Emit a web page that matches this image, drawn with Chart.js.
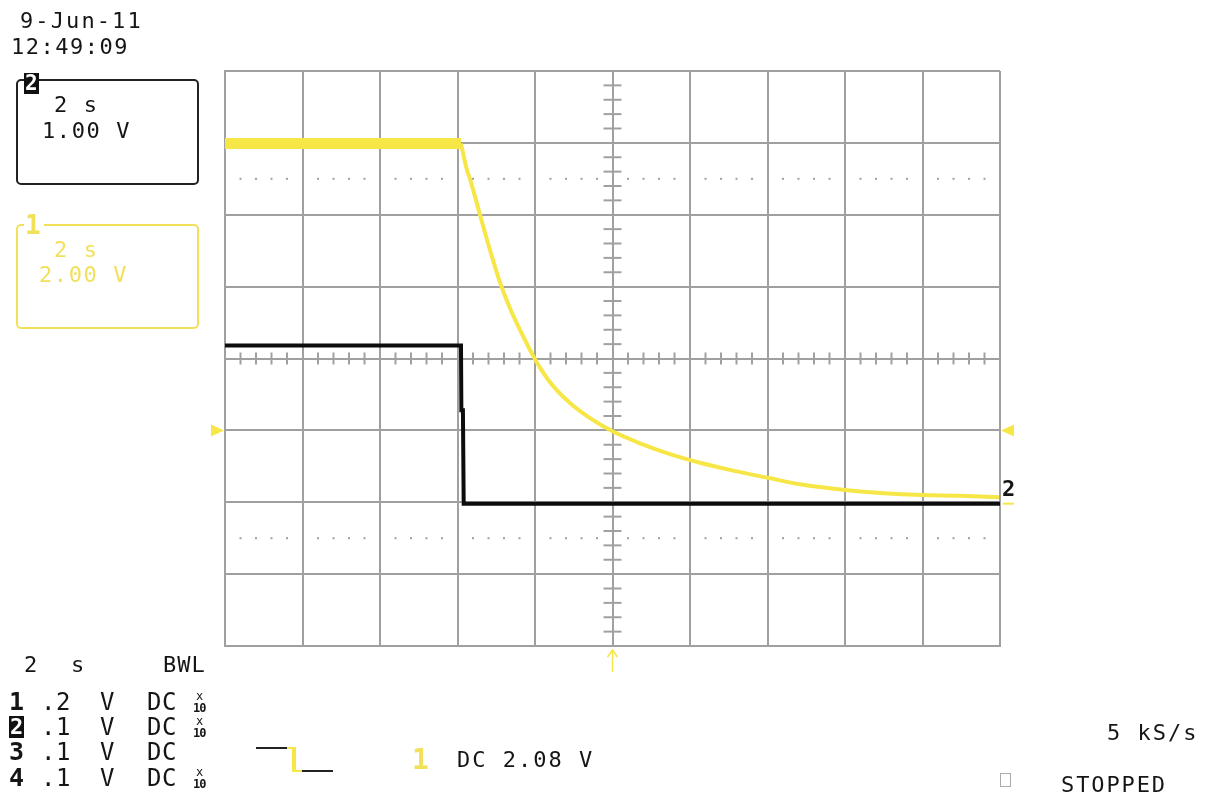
<!DOCTYPE html>
<html>
<head>
<meta charset="utf-8">
<script src="https://cdn.jsdelivr.net/npm/chart.js@4.4.1/dist/chart.umd.min.js"></script>
<style>
  html,body{margin:0;padding:0;background:#fff;}
  #wrap{position:relative;width:1206px;height:794px;overflow:hidden;background:#fff;}
  canvas{position:absolute;left:0;top:0;}
  .t{position:absolute;white-space:pre;font-family:"DejaVu Sans Mono","Liberation Mono",monospace;line-height:1;color:#151515;}
  .box{position:absolute;border-radius:5px;box-sizing:border-box;}
</style>
</head>
<body>
<div id="wrap"><canvas id="c" width="1206" height="794"></canvas></div>
<script>
// ---- Data (screen divisions: x 0..10 = 2 s/div, y -4..4) ----
const ch1FlatX = [0, 3.045];
const ch1FlatY = [2.99, 2.99];
const ch1DecayX = [3.045, 3.123, 3.161, 3.290, 3.419, 3.548, 3.677, 3.806, 4.000, 4.194, 4.452, 4.710, 4.994, 5.355, 5.742, 6.129, 6.516, 7.006, 7.419, 8.000, 8.452, 8.994, 9.484, 9.987];
const ch1DecayY = [2.99, 2.62, 2.50, 2.00, 1.51, 1.06, 0.70, 0.40, -0.01, -0.33, -0.62, -0.83, -1.01, -1.18, -1.33, -1.45, -1.55, -1.66, -1.75, -1.83, -1.87, -1.90, -1.91, -1.93];
const ch2X = [0, 3.045, 3.050, 3.070, 3.080, 10];
const ch2Y = [0.18, 0.18, -0.72, -0.72, -2.02, -2.02];
const ch1Ground = -1;       // yellow marker level (divisions)
const xTicks = [0,1,2,3,4,5,6,7,8,9,10];
const yTicks = [-4,-3,-2,-1,0,1,2,3,4];

const YEL = '#f6e646';
const YEL_T = '#f3e05a';
const GRID = '#a0a0a0';

const pts = (xs, ys) => xs.map((x, i) => ({x, y: ys[i]}));

const scopePlugin = {
  id: 'scope',
  beforeDatasetsDraw(chart) {
    const {ctx, scales: {x, y}} = chart;
    ctx.save();
    ctx.strokeStyle = GRID;
    ctx.fillStyle = GRID;
    ctx.lineWidth = 2;
    const x0 = x.getPixelForValue(5), y0 = y.getPixelForValue(0);
    for (let v = 0; v <= 10.0001; v += 0.2) {
      if (Math.abs(v - Math.round(v)) < 1e-6) continue;
      const px = x.getPixelForValue(v);
      ctx.beginPath(); ctx.moveTo(px, y0 - 6); ctx.lineTo(px, y0 + 6); ctx.stroke();
    }
    for (let v = -4; v <= 4.0001; v += 0.2) {
      if (Math.abs(v - Math.round(v)) < 1e-6) continue;
      const py = y.getPixelForValue(v);
      ctx.beginPath(); ctx.moveTo(x0 - 9, py); ctx.lineTo(x0 + 9, py); ctx.stroke();
    }
    [2.5, -2.5].forEach(r => {
      const py = y.getPixelForValue(r);
      for (let v = 0; v <= 10.0001; v += 0.2) {
        if (Math.abs(v - Math.round(v)) < 1e-6) continue;
        const px = x.getPixelForValue(v);
        ctx.fillRect(px - 1, py - 1, 2, 2);
      }
    });
    ctx.restore();
  },
  afterDraw(chart) {
    const {ctx, scales: {x, y}, chartArea: a} = chart;
    ctx.save();
    ctx.fillStyle = YEL;
    const gy = y.getPixelForValue(ch1Ground);
    ctx.beginPath(); ctx.moveTo(a.left - 1, gy); ctx.lineTo(a.left - 14, gy - 6); ctx.lineTo(a.left - 14, gy + 6); ctx.closePath(); ctx.fill();
    ctx.beginPath(); ctx.moveTo(a.right + 1, gy); ctx.lineTo(a.right + 14, gy - 6); ctx.lineTo(a.right + 14, gy + 6); ctx.closePath(); ctx.fill();
    const cx = x.getPixelForValue(5);
    ctx.strokeStyle = YEL; ctx.lineWidth = 1.5;
    ctx.beginPath(); ctx.moveTo(cx, a.bottom + 4); ctx.lineTo(cx, a.bottom + 26); ctx.stroke();
    ctx.beginPath(); ctx.moveTo(cx - 5, a.bottom + 11); ctx.lineTo(cx, a.bottom + 4); ctx.lineTo(cx + 5, a.bottom + 11); ctx.stroke();
    ctx.fillRect(a.right + 3, y.getPixelForValue(-2.02) - 1, 11, 2);
    ctx.restore();
  }
};

new Chart(document.getElementById('c'), {
  type: 'line',
  data: {
    datasets: [
      {data: pts(ch2X, ch2Y), borderColor: '#0d0d0d', borderWidth: 4, pointRadius: 0, tension: 0, borderJoinStyle: 'miter'},
      {data: pts(ch1FlatX, ch1FlatY), borderColor: YEL, borderWidth: 11, pointRadius: 0, tension: 0, borderCapStyle: 'butt'},
      {data: pts(ch1DecayX, ch1DecayY), borderColor: YEL, borderWidth: 4, pointRadius: 0, cubicInterpolationMode: 'monotone'}
    ]
  },
  options: {
    responsive: false,
    devicePixelRatio: 1,
    animation: false,
    layout: {padding: {left: 225, right: 206, top: 71, bottom: 148}},
    plugins: {legend: {display: false}, tooltip: {enabled: false}},
    scales: {
      x: {type: 'linear', min: 0, max: 10, afterBuildTicks: s => { s.ticks = xTicks.map(v => ({value: v})); },
          ticks: {display: false}, grid: {color: GRID, lineWidth: 2, drawTicks: false},
          border: {display: true, color: GRID, width: 2}},
      y: {type: 'linear', min: -4, max: 4, afterBuildTicks: s => { s.ticks = yTicks.map(v => ({value: v})); },
          ticks: {display: false}, grid: {color: GRID, lineWidth: 2, drawTicks: false},
          border: {display: true, color: GRID, width: 2}}
    }
  },
  plugins: [scopePlugin]
});

// ---- Text annotations (HTML) ----
const wrap = document.getElementById('wrap');
function T(text, x, base, fs, opt = {}) {
  const d = document.createElement('div');
  d.className = 't';
  d.textContent = text;
  d.style.fontSize = fs + 'px';
  d.style.left = x + 'px';
  d.style.top = (base - 0.846 * fs) + 'px';
  if (opt.color) d.style.color = opt.color;
  if (opt.ls !== undefined) d.style.letterSpacing = opt.ls + 'px';
  if (opt.bold) d.style.fontWeight = 'bold';
  if (opt.bg) d.style.background = opt.bg;
  if (opt.pad) d.style.padding = opt.pad;
  wrap.appendChild(d);
  return d;
}
function B(l, t, w, h, color) {
  const d = document.createElement('div');
  d.className = 'box';
  d.style.left = l + 'px'; d.style.top = t + 'px';
  d.style.width = w + 'px'; d.style.height = h + 'px';
  d.style.border = '2px solid ' + color;
  wrap.appendChild(d);
}

T('9-Jun-11', 20, 29, 22, {ls: 2.1});
T('12:49:09', 11, 55, 22, {ls: 1.5});

B(16, 79, 183, 106, '#222');
T('2', 24, 91, 21, {bold: true, color: '#fff', bg: '#111', pad: '0 1px'});
T('2 s', 54, 113, 22, {ls: 1.6});
T('1.00 V', 42, 139, 22, {ls: 1.6});

B(16, 224, 183, 105, YEL_T);
T('1', 24, 234, 26, {bold: true, color: YEL_T, bg: '#fff', pad: '0 3px 0 1px'});
T('2 s', 54, 258, 22, {ls: 1.6, color: YEL_T});
T('2.00 V', 39, 283, 22, {ls: 1.6, color: YEL_T});

T('2', 24, 673, 22);
T('s', 71, 673, 22);
T('BWL', 163, 673, 22, {ls: 1});
const rows = [
  {n: '1', v: '.2', x10: true, base: 710},
  {n: '2', v: '.1', x10: true, base: 735, inv: true},
  {n: '3', v: '.1', x10: false, base: 760},
  {n: '4', v: '.1', x10: true, base: 786}
];
rows.forEach(r => {
  if (r.inv) T(r.n, 9, r.base, 22, {bold: true, color: '#fff', bg: '#111', pad: '0 1px'});
  else T(r.n, 9, r.base, 25, {bold: true});
  T(r.v, 41, r.base, 24, {ls: 0.5});
  T('V', 100, r.base, 24);
  T('DC', 147, r.base, 24, {ls: 0.5});
  if (r.x10) {
    T('x', 196, r.base - 10, 12);
    T('10', 193, r.base + 2, 12, {bold: true, ls: -1});
  }
});

(function(){
  const mk = (l, t, w, h, c) => { const d = document.createElement('div'); d.style.cssText = `position:absolute;left:${l}px;top:${t}px;width:${w}px;height:${h}px;background:${c}`; wrap.appendChild(d); };
  mk(256, 747, 31, 2, '#222');
  mk(287, 747, 7, 2, YEL);
  mk(292, 747, 4, 25, YEL);
  mk(296, 770, 6, 2, YEL);
  mk(302, 770, 31, 2, '#222');
  const s = document.createElement('div');
  s.style.cssText = 'position:absolute;left:1000px;top:773px;width:11px;height:14px;border:1px solid #aaa;box-sizing:border-box;';
  wrap.appendChild(s);
})();

T('1', 412, 770, 28, {color: YEL_T, bold: true});
T('DC 2.08 V', 457, 768, 22, {ls: 2});
T('5 kS/s', 1107, 741, 22, {ls: 2});
T('STOPPED', 1061, 793, 22, {ls: 1.9});
T('2', 1002, 497, 22, {bold: true});
</script>
</body>
</html>
